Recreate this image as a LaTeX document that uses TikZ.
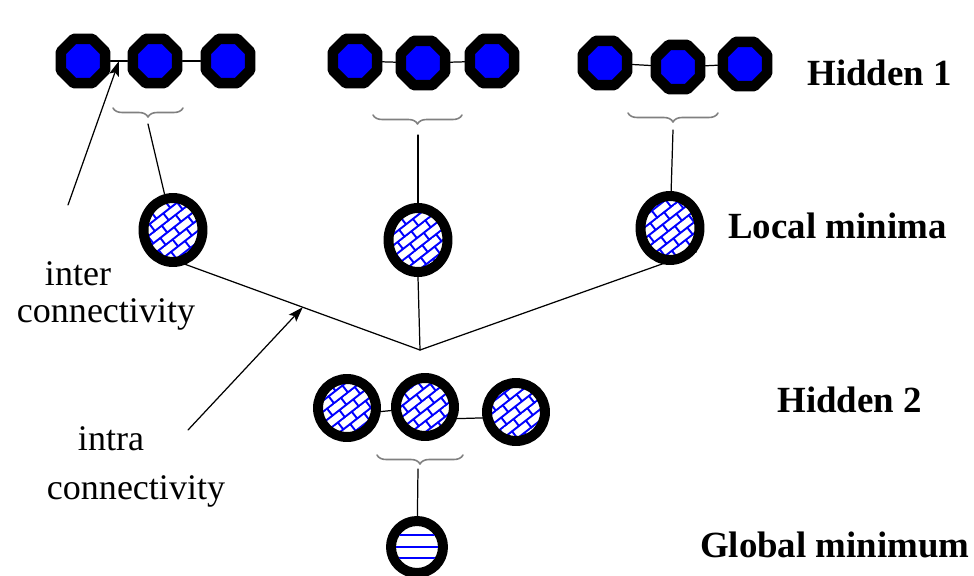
\documentclass[tikz,border=0pt]{standalone}
\usepackage{fontspec}
\setmainfont{Liberation Serif}
\usetikzlibrary{patterns.meta,decorations.pathreplacing,arrows.meta,shapes.geometric,calc}

% slanted brick fill for the hatched units
\pgfdeclarepattern{
  name=slantbricks,
  type=uncolored,
  bottom left={\pgfpoint{-.6pt}{-.6pt}},
  top right={\pgfpoint{10.6pt}{10.6pt}},
  tile size={\pgfpoint{10pt}{10pt}},
  tile transformation={\pgftransformrotate{38}},
  code={
    \pgfsetlinewidth{1.1pt}
    \pgfpathmoveto{\pgfpoint{0pt}{0pt}}\pgfpathlineto{\pgfpoint{10pt}{0pt}}
    \pgfpathmoveto{\pgfpoint{0pt}{5pt}}\pgfpathlineto{\pgfpoint{10pt}{5pt}}
    \pgfpathmoveto{\pgfpoint{0pt}{0pt}}\pgfpathlineto{\pgfpoint{0pt}{5pt}}
    \pgfpathmoveto{\pgfpoint{5pt}{5pt}}\pgfpathlineto{\pgfpoint{5pt}{10pt}}
    \pgfusepath{stroke}
  }
}

\begin{document}
\begin{tikzpicture}[x=0.02cm,y=-0.02cm,line cap=round,line join=round,
  unit/.style={regular polygon,regular polygon sides=8,minimum size=0.96cm,inner sep=0pt,
    draw=black,line width=0.21cm,fill=blue},
  localmin/.style={ellipse,minimum width=1.18cm,minimum height=1.28cm,inner sep=0pt,
    draw=black,line width=0.2cm,pattern=slantbricks,pattern color=blue},
  hunit/.style={circle,minimum size=1.16cm,inner sep=0pt,
    draw=black,line width=0.2cm,pattern=slantbricks,pattern color=blue},
  globmin/.style={circle,minimum size=1.04cm,inner sep=0pt,draw=black,line width=0.2cm,fill=white},
  link/.style={line width=0.7pt},
  grp/.style={decorate,decoration={brace,amplitude=0.18cm},draw=gray,line width=0.9pt},
  lbl/.style={font=\fontsize{21}{25}\selectfont\bfseries,inner sep=0pt},
  note/.style={font=\fontsize{20.5}{25}\selectfont,inner sep=0pt},
  pointer/.style={line width=0.7pt,-{Stealth[length=0.3cm,width=0.2cm,inset=0.06cm]}}]
  \useasboundingbox (0,0) rectangle (974,575);

  % first hidden layer, three groups
  \node[unit] (c11) at (83,61) {};
  \node[unit] (c12) at (155,61) {};
  \node[unit] (c13) at (228,61) {};
  \node[unit] (c21) at (355,61) {};
  \node[unit] (c22) at (423,63) {};
  \node[unit] (c23) at (492,61) {};
  \node[unit] (c31) at (605,63) {};
  \node[unit] (c32) at (678,67) {};
  \node[unit] (c33) at (745,64) {};
  \draw[link] (c11) -- (c12) (c12) -- (c13);
  \draw[link] (c21) -- (c22) (c22) -- (c23);
  \draw[link] (c31) -- (c32) (c32) -- (c33);

  % local minima
  \node[localmin] (lm1) at (173,230) {};
  \node[localmin] (lm2) at (418,240) {};
  \node[localmin] (lm3) at (670,228) {};

  % braces under each group
  \draw[grp] (183,108) -- (113,108);
  \draw[grp] (462,115) -- (373,115);
  \draw[grp] (718,113) -- (628,113);
  \coordinate (g1) at (148,124);
  \coordinate (g2) at (418,135);
  \coordinate (g3) at (673,130);
  \draw[link] (g1) -- (lm1);
  \draw[link] (g2) -- (lm2);
  \draw[link] (g3) -- (lm3);

  % minima joined together
  \coordinate (J) at (420,350);
  \draw[link] (lm1.-70) -- (J);
  \draw[link] (lm2.south) -- (J);
  \draw[link] (lm3.-42) -- (J);

  % second hidden layer
  \node[hunit] (h21) at (347,408) {};
  \node[hunit] (h22) at (425,407) {};
  \node[hunit] (h23) at (516,412) {};
  \draw[link] (h21.-6) -- (h22.186);
  \draw[link] (h22.-20) -- (h23.-170);
  \draw[grp] (463,455) -- (377,455);
  \coordinate (g4) at (418,469);

  % global minimum
  \node[globmin] (gm) at (417,547) {};
  \draw[link] (g4) -- (gm);
  \begin{scope}
    \clip (gm.center) circle (0.42cm);
    \draw[blue,line width=1.1pt] ([yshift=0.24cm]gm.west) -- ([yshift=0.24cm]gm.east);
    \draw[blue,line width=1.1pt] (gm.west) -- (gm.east);
    \draw[blue,line width=1.1pt] ([yshift=-0.22cm]gm.west) -- ([yshift=-0.22cm]gm.east);
  \end{scope}

  % layer names
  \node[lbl,anchor=base west] (t1) at (807,85) {Hidden 1};
  \node[lbl,anchor=base west] (t2) at (728,238) {Local minima};
  \node[lbl,anchor=base west] (t3) at (777,412) {Hidden 2};
  \node[lbl,anchor=base east] (t4) at (970,557) {Global minimum};

  % connectivity notes
  \node[note,anchor=base] (inter) at (78,285) {inter};
  \node[note,anchor=base] (interc) at (106,322) {connectivity};
  \node[note,anchor=base] (intra) at (111,450) {intra};
  \node[note,anchor=base] (intrac) at (136,499) {connectivity};
  \coordinate (intert) at (68,205);
  \coordinate (intrat) at (188,430);
  \draw[pointer] (intert) -- ($(c11)!0.5!(c12)$);
  \draw[pointer] (intrat) -- ($(lm1.-70)!0.5!(J)$);
\end{tikzpicture}
\end{document}
